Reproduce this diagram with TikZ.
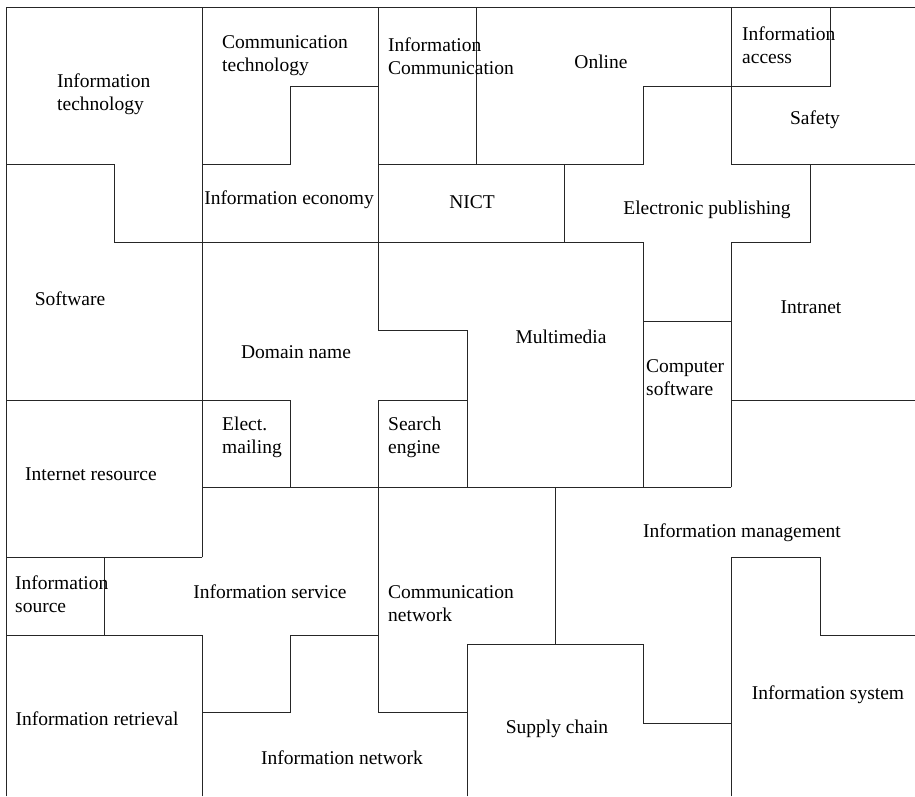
\documentclass[tikz,border=0pt]{standalone}
\usepackage{fontspec}
\setmainfont{Liberation Serif}
\begin{document}
\begin{tikzpicture}[x=1pt,y=-1pt,
  wall/.style={line width=0.9pt,draw=black!85,line cap=rect},
  lbl/.style={inner sep=0pt,yshift=-2pt,font=\fontsize{19.5}{23}\selectfont},
  lblL/.style={lbl,align=left,anchor=west}]
\useasboundingbox (0,0) rectangle (915,796);

% outer edges
\draw[wall] (6,796) -- (6,7) -- (915,7);

% upper band
\draw[wall] (202,7) -- (202,557);
\draw[wall] (202,635) -- (202,796);
\draw[wall] (6,164) -- (114,164) -- (114,242) -- (643,242) -- (643,487);
\draw[wall] (202,164) -- (290,164) -- (290,86) -- (378,86);
\draw[wall] (378,7) -- (378,330) -- (467,330) -- (467,487);
\draw[wall] (378,164) -- (643,164) -- (643,86) -- (830,86) -- (830,7);
\draw[wall] (476,7) -- (476,164);
\draw[wall] (564,164) -- (564,242);
\draw[wall] (731,7) -- (731,164) -- (915,164);
\draw[wall] (810,164) -- (810,242) -- (731,242) -- (731,487);
\draw[wall] (643,321) -- (731,321);
\draw[wall] (731,400) -- (915,400);

% middle band
\draw[wall] (6,400) -- (290,400) -- (290,487);
\draw[wall] (378,400) -- (467,400);
\draw[wall] (378,400) -- (378,712) -- (467,712);
\draw[wall] (202,487) -- (731,487);

% lower band
\draw[wall] (555,487) -- (555,644);
\draw[wall] (467,796) -- (467,644) -- (643,644) -- (643,723) -- (731,723);
\draw[wall] (731,796) -- (731,557) -- (820,557) -- (820,635) -- (915,635);
\draw[wall] (6,557) -- (202,557);
\draw[wall] (104,557) -- (104,635);
\draw[wall] (6,635) -- (202,635);
\draw[wall] (202,712) -- (290,712) -- (290,635) -- (378,635);

% labels
\node[lblL] (itech) at (57,92) {Information\\technology};
\node[lblL] (ctech) at (222,54) {Communication\\technology};
\node[lblL] (icomm) at (388,54) {Information\\Communication};
\node[lbl] (online) at (601,60) {Online};
\node[lblL] (iaccess) at (742,43) {Information\\access};
\node[lbl] (safety) at (815,118) {Safety};
\node[lbl] (iecon) at (289,198) {Information economy};
\node[lbl] (nict) at (472,200) {NICT};
\node[lbl] (epub) at (707,208) {Electronic publishing};
\node[lbl] (soft) at (70,297) {Software};
\node[lbl] (domain) at (296,350) {Domain name};
\node[lbl] (multi) at (561,335) {Multimedia};
\node[lbl] (intra) at (811,305) {Intranet};
\node[lblL] (csoft) at (646,376) {Computer\\software};
\node[lblL] (email) at (222,435) {Elect.\\mailing};
\node[lblL] (search) at (388,435) {Search\\engine};
\node[lbl] (iresource) at (91,472) {Internet resource};
\node[lbl] (imanage) at (742,531) {Information management};
\node[lblL] (isource) at (15,592) {Information\\source};
\node[lbl] (iservice) at (270,590) {Information service};
\node[lblL] (cnet) at (388,602) {Communication\\network};
\node[lbl] (isystem) at (828,693) {Information system};
\node[lbl] (iretr) at (97,717) {Information retrieval};
\node[lbl] (supply) at (557,727) {Supply chain};
\node[lbl] (inet) at (342,756) {Information network};
\end{tikzpicture}
\end{document}
